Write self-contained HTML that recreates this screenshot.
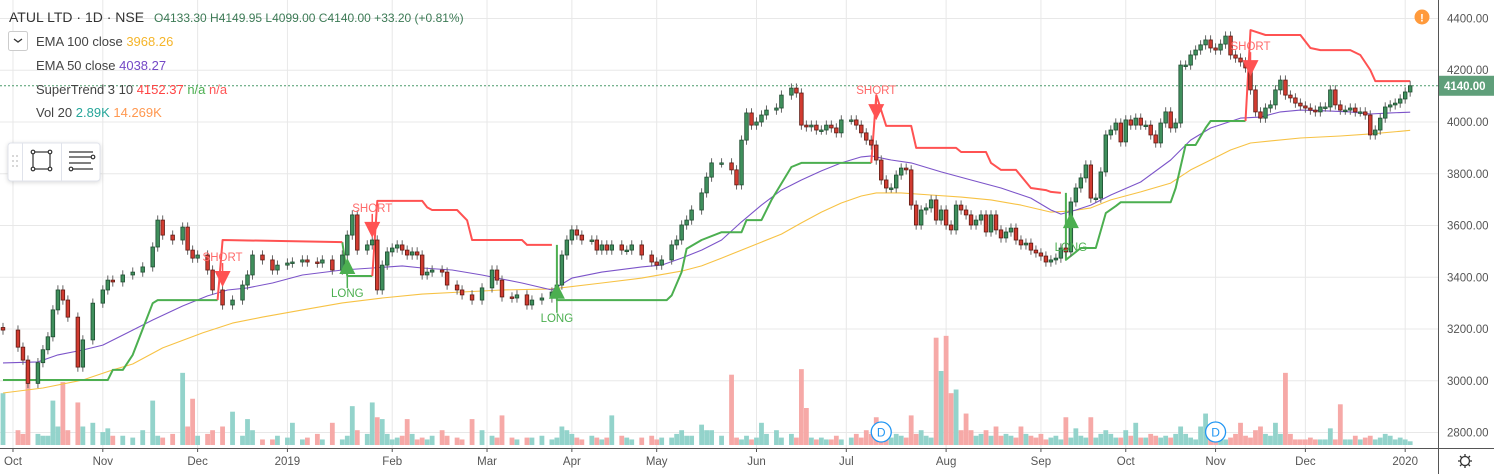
<!DOCTYPE html>
<html><head><meta charset="utf-8"><style>
html,body{margin:0;padding:0;background:#fff;width:1494px;height:474px;overflow:hidden}
svg{display:block;font-family:"Liberation Sans",sans-serif}
</style></head><body>
<svg id="chart" width="1494" height="474" viewBox="0 0 1494 474" xmlns="http://www.w3.org/2000/svg">
<g id="grid"></g>
<g id="vol"></g>
<g id="lines"></g>
<g id="candles"></g>
<g id="marks"></g>
<g id="axes"></g>
<g font-size="13">
 <text x="9" y="22" fill="#333" font-size="14">ATUL LTD · 1D · NSE</text>
 <text x="154" y="22" fill="#3c7a55" font-size="12">O4133.30  H4149.95  L4099.00  C4140.00  +33.20 (+0.81%)</text>
 <rect x="8.5" y="31.5" width="19" height="19" rx="2" fill="#fff" stroke="#ccc"/>
 <path d="M14 39 l4 3 l4 -3" fill="none" stroke="#333" stroke-width="1.3"/>
 <text x="36" y="46" fill="#444">EMA 100 close <tspan fill="#f5b52a">3968.26</tspan></text>
 <text x="36" y="70" fill="#444">EMA 50 close <tspan fill="#7448c6">4038.27</tspan></text>
 <text x="36" y="94" fill="#444">SuperTrend 3 10 <tspan fill="#f44">4152.37</tspan> <tspan fill="#4caf50">n/a</tspan> <tspan fill="#f55">n/a</tspan></text>
 <text x="36" y="117" fill="#444">Vol 20 <tspan fill="#26a69a">2.89K</tspan> <tspan fill="#ff9850">14.269K</tspan></text>
</g>
<g>
 <rect x="8" y="143" width="92" height="38" rx="3" fill="#fff" stroke="#e0e3eb" style="filter:drop-shadow(0 1px 2px rgba(0,0,0,.15))"/>
 <line x1="22.5" y1="143" x2="22.5" y2="181" stroke="#e0e3eb"/>
 <line x1="61.5" y1="143" x2="61.5" y2="181" stroke="#e0e3eb"/>
 <g fill="#ccc"><circle cx="13" cy="156" r="1"/><circle cx="17" cy="156" r="1"/><circle cx="13" cy="161" r="1"/><circle cx="17" cy="161" r="1"/><circle cx="13" cy="166" r="1"/><circle cx="17" cy="166" r="1"/></g>
 <g fill="#fff" stroke="#333" stroke-width="1.2"><rect x="33" y="152" width="17" height="17" fill="none"/><circle cx="33" cy="152" r="1.8"/><circle cx="50" cy="152" r="1.8"/><circle cx="33" cy="169" r="1.8"/><circle cx="50" cy="169" r="1.8"/></g>
 <g stroke="#333" stroke-width="1.2" fill="#fff"><line x1="69" y1="152" x2="93" y2="152"/><line x1="69" y1="157" x2="91" y2="157"/><line x1="69" y1="163" x2="91" y2="163"/><line x1="72" y1="169" x2="93" y2="169"/><circle cx="93" cy="157" r="1.8"/><circle cx="71" cy="169" r="1.8"/></g>
</g>
<g><circle cx="1422" cy="17" r="7.5" fill="#ff9a3c"/><text x="1422" y="21.5" text-anchor="middle" fill="#fff" font-size="11" font-weight="bold">!</text></g>
<g fill="none" stroke="#333" stroke-width="1.3"><circle cx="1465" cy="461" r="4.5"/><path d="M1465 454v2M1465 466v2M1458 461h2M1470 461h2M1460 456l1.5 1.5M1468.5 464.5l1.5 1.5M1460 466l1.5-1.5M1468.5 457.5l1.5-1.5"/></g>
</svg>
<script>
const days=[0,3,4,5,7,8,9,10,11,12,13,15,16,18,20,21,22,24,26,28,30,31,32,34,36,37,38,39,41,42,44,46,48,49,50,52,54,55,57,58,60,61,63,64,66,68,69,70,71,73,74,75,76,77,78,79,80,81,82,83,84,85,86,88,89,91,92,94,96,98,99,100,102,103,105,106,108,110,111,112,113,114,115,116,118,119,120,121,122,124,125,126,128,130,131,132,134,135,136,137,138,140,141,142,144,146,147,148,149,150,151,152,153,155,156,158,159,160,161,162,163,164,165,166,167,168,170,171,172,173,174,175,176,177,178,179,180,181,182,183,184,185,186,187,188,189,190,191,192,193,194,195,196,197,198,199,200,201,202,203,204,205,206,207,208,209,210,211,212,213,214,215,216,217,218,219,220,221,222,223,224,225,226,227,228,229,230,231,232,233,234,235,236,237,238,239,240,241,242,243,244,245,246,247,248,249,250,251,252,253,254,255,256,257,258,259,260,261,262,263,264,265,266,267,268,269,270,271,272,273,274,275,276,277,278,279,280,281,282];
const closes=[3196,3130,3080,2990,3070,3120,3170,3274,3351,3312,3246,3053,3158,3300,3351,3389,3382,3409,3420,3440,3517,3621,3563,3544,3594,3505,3474,3486,3428,3351,3293,3312,3370,3409,3486,3467,3428,3447,3455,3459,3467,3459,3455,3467,3428,3486,3563,3641,3505,3525,3544,3351,3447,3498,3513,3525,3505,3486,3498,3486,3409,3420,3428,3420,3370,3351,3332,3312,3359,3428,3389,3324,3320,3332,3293,3312,3320,3343,3370,3486,3544,3583,3563,3544,3544,3505,3525,3505,3525,3505,3505,3525,3486,3459,3447,3467,3525,3544,3602,3621,3660,3726,3787,3842,3842,3815,3757,3930,4035,3988,4000,4027,4046,4054,4104,4131,4112,3988,3981,3988,3969,3969,3988,3977,3958,4008,4008,3988,3958,3930,3911,3853,3776,3745,3745,3795,3822,3815,3679,3602,3660,3668,3699,3621,3660,3602,3583,3679,3660,3641,3602,3621,3641,3575,3641,3583,3552,3575,3590,3544,3525,3532,3505,3494,3482,3459,3467,3474,3513,3498,3691,3745,3784,3834,3706,3706,3807,3950,3969,3996,3923,4008,3988,4015,3988,3988,3950,3919,3996,4039,3977,3996,4220,4220,4259,4278,4298,4317,4286,4278,4301,4332,4259,4247,4232,4209,4124,4039,4015,4054,4066,4124,4162,4104,4093,4073,4062,4054,4046,4039,4058,4058,4124,4066,4046,4046,4054,4039,4039,4027,3950,3969,4015,4058,4066,4073,4089,4116,4140];
const vols=[28,8,6,42,6,5,5,24,10,34,8,23,10,12,7,9,5,5,4,8,24,5,4,6,39,10,25,5,6,8,10,18,5,14,8,3,3,5,4,12,3,4,6,3,12,3,5,21,8,6,23,15,14,6,3,4,5,14,6,3,4,3,5,8,5,4,3,14,8,5,4,16,4,3,4,4,5,3,4,10,8,6,4,3,5,4,3,4,16,5,4,3,4,5,3,4,4,6,8,5,5,11,8,8,5,38,4,3,5,3,4,12,6,8,4,6,4,41,20,4,3,4,3,3,5,3,4,6,4,8,6,15,5,8,4,6,5,4,16,6,8,5,4,58,40,59,28,30,8,17,8,5,6,8,5,10,5,6,5,4,10,6,5,4,6,3,4,5,3,15,4,9,5,4,15,4,6,8,6,4,4,8,5,12,4,4,6,5,4,5,4,6,10,6,4,3,10,17,8,5,4,3,4,6,12,5,4,8,10,6,5,12,6,39,6,3,3,3,4,3,3,3,9,3,22,3,3,5,3,4,5,3,4,6,5,3,4,3,2];
const ema50Days=[0,7,11,16,20,26,30,36,41,45,49,54,60,68,74,80,84,90,96,104,110,114,120,128,132,136,140,144,148,152,156,160,164,168,172,174,178,182,188,194,200,206,210,212,215,218,222,228,234,238,242,248,252,256,260,266,270,274,278,282];
const ema50=[3069,3073,3100,3119,3138,3196,3235,3289,3328,3351,3359,3378,3409,3428,3436,3444,3436,3428,3409,3378,3351,3397,3420,3440,3447,3474,3505,3544,3614,3679,3737,3776,3811,3842,3865,3869,3853,3842,3807,3776,3745,3706,3660,3644,3660,3679,3718,3768,3853,3930,3977,4015,4019,4039,4046,4042,4039,4031,4035,4038];
const ema100Days=[0,8,16,22,26,32,40,46,52,60,68,76,84,92,100,110,120,128,136,140,144,148,152,156,160,164,168,172,175,180,186,192,198,204,210,214,218,222,228,234,238,242,246,250,254,260,268,274,280,282];
const ema100=[2953,2972,3003,3042,3065,3127,3185,3223,3246,3274,3301,3320,3335,3343,3351,3355,3378,3397,3424,3444,3474,3505,3536,3567,3610,3652,3687,3714,3726,3726,3718,3710,3699,3679,3652,3656,3668,3699,3730,3764,3815,3853,3892,3919,3927,3938,3946,3954,3964,3968];
const stUpDays=[[0,21,22,24,26,28,30,31,43],[68,69,74],[111,111,133,134,136,137,140,144,148,149,152,154,158,160,174],[213,213,216,219,221,223,224,234,235,237,239,241,242,249]];
const stUp=[[3003,3003,3042,3042,3100,3200,3300,3312,3312],[3536,3405,3405],[3525,3312,3312,3330,3420,3510,3544,3574,3574,3621,3621,3699,3826,3842,3842],[3726,3467,3513,3513,3648,3675,3690,3690,3745,3911,3911,3977,4004,4004]];
const stDnDays=[[43,44,68],[74,75,84,85,86,91,93,94,104,105,110],[174,175,177,182,183,191,192,197,198,200,203,206,209,210,212],[249,250,253,260,262,264,270,272,274,275,282]];
const stDn=[[3312,3544,3536],[3405,3695,3695,3670,3660,3660,3620,3544,3544,3525,3525],[3842,4104,3985,3985,3900,3900,3884,3884,3842,3815,3815,3745,3737,3730,3726],[4004,4355,4336,4336,4286,4278,4278,4259,4201,4158,4158]];
const shortDays=[44,74,175,250], shortPrices=[3370,3560,4015,4185];
const longDays=[69,111,214], longPrices=[3436,3340,3613];
const divDays=[176,243];
const priceTicks=[2800,3000,3200,3400,3600,3800,4000,4200,4400];
const monthDays=[2,20,39,57,78,97,114,131,151,169,189,208,225,243,261,281];
const monthLabels=["Oct","Nov","Dec","2019","Feb","Mar","Apr","May","Jun","Jul","Aug","Sep","Oct","Nov","Dec","2020"];
const lastPrice=4140;

const NS="http://www.w3.org/2000/svg";
const X=d=>3+d*4.99;
const Y=p=>122+(4000-p)*0.2588;
const VY=v=>445-v*1.85;
function mk(parent,tag,attrs){const e=document.createElementNS(NS,tag);for(const k in attrs)e.setAttribute(k,attrs[k]);parent.appendChild(e);return e;}
const grid=document.getElementById('grid'),vol=document.getElementById('vol'),lines=document.getElementById('lines'),cg=document.getElementById('candles'),marks=document.getElementById('marks'),axes=document.getElementById('axes');

priceTicks.forEach(p=>{
 const l=mk(grid,'line',{x1:0,x2:1438,y1:Y(p),y2:Y(p),stroke:'#e8e8e8'});
 
 
 const t=mk(axes,'text',{x:1447,y:Y(p)+4,fill:'#555','font-size':11.5});
 t.textContent=p.toFixed(2);
 
 
});
monthDays.forEach((d,i)=>{
 const l=mk(grid,'line',{x1:X(d),x2:X(d),y1:0,y2:448,stroke:'#e8e8e8'});
 
 
 const t=mk(axes,'text',{x:X(d),y:465,fill:'#555','font-size':11.5,'text-anchor':'middle'});
 t.textContent=monthLabels[i];
 
 
 mk(axes,'line',{x1:X(d),x2:X(d),y1:448,y2:452,stroke:'#555'});
});
mk(axes,'line',{x1:1438.5,x2:1438.5,y1:0,y2:474,stroke:'#555'});
mk(axes,'line',{x1:0,x2:1438,y1:448.5,y2:448.5,stroke:'#555'});
mk(axes,'line',{x1:1438,x2:1494,y1:448.5,y2:448.5,stroke:'#555'});

// volume
days.forEach((d,i)=>{
 const up=closes[i]>=(i?closes[i-1]:closes[i]);
 const r=mk(vol,'rect',{x:X(d)-2.4,y:VY(vols[i]),width:4.8,height:445-VY(vols[i]),fill:up?'#93d3cb':'#f6a9a7'});
 
 
});
divDays.forEach(d=>{
 const g=mk(vol,'g',{});
 
 
 mk(g,'circle',{cx:X(d),cy:432,r:10,fill:'#fff',stroke:'#2196f3','stroke-width':1.3});
 const t=mk(g,'text',{x:X(d),y:436.5,'text-anchor':'middle',fill:'#2196f3','font-size':12});t.textContent='D';
});

function poly(ds,ps,color,w,name){
 const pts=ds.map((d,i)=>X(d).toFixed(1)+','+Y(ps[i]).toFixed(1)).join(' ');
 const p=mk(lines,'polyline',{points:pts,fill:'none',stroke:color,'stroke-width':w,'stroke-linejoin':'round'});
 
 
}
poly(ema100Days,ema100,'#f7c244',1.1,'ema100-line');
poly(ema50Days,ema50,'#7c54c9',1.1,'ema50-line');
stUpDays.forEach((ds,i)=>poly(ds,stUp[i],'#4caf50',2,'supertrend-up-line'));
stDnDays.forEach((ds,i)=>poly(ds,stDn[i],'#ff5252',2,'supertrend-down-line'));

// last price line
const pl=mk(lines,'line',{x1:0,x2:1438,y1:Y(lastPrice),y2:Y(lastPrice),stroke:'#4a9a6a','stroke-dasharray':'2,2'});


const lb=mk(axes,'rect',{x:1439,y:Y(lastPrice)-10,width:55,height:20,fill:'#5f9f7a'});


const lt=mk(axes,'text',{x:1444,y:Y(lastPrice)+4,fill:'#fff','font-size':11.5,'font-weight':'bold'});lt.textContent=lastPrice.toFixed(2);

// candles
days.forEach((d,i)=>{
 const c=closes[i],o=i?closes[i-1]:closes[i]+10;
 const up=c>=o;
 const hi=Math.max(o,c)+18,lo=Math.min(o,c)-18;
 const g=mk(cg,'g',{});
 
 
 mk(g,'line',{x1:X(d),x2:X(d),y1:Y(hi),y2:Y(lo),stroke:'#666','stroke-width':1});
 const top=Y(Math.max(o,c)),bot=Y(Math.min(o,c));
 mk(g,'rect',{x:X(d)-1.8,y:top,width:3.6,height:Math.max(1.5,bot-top),fill:up?'#3f8f5c':'#d13b30',stroke:up?'#1f4d31':'#5e1a13','stroke-width':0.8});
});

// markers
shortDays.forEach((d,i)=>{
 const g=mk(marks,'g',{});
 
 
 const x=X(d),y=Y(shortPrices[i]);
 mk(g,'line',{x1:x,x2:x,y1:y-22,y2:y,stroke:'#ff5252','stroke-width':1.5});
 mk(g,'path',{d:`M${x-8} ${y-14} L${x+8} ${y-14} L${x} ${y+2} Z`,fill:'#ff5252'});
 const t=mk(g,'text',{x:x,y:y-24,'text-anchor':'middle',fill:'#ff6a6a','font-size':11.5});t.textContent='SHORT';
});
longDays.forEach((d,i)=>{
 const g=mk(marks,'g',{});
 
 
 const x=X(d),y=Y(longPrices[i]);
 mk(g,'line',{x1:x,x2:x,y1:y,y2:y+20,stroke:'#4caf50','stroke-width':1.5});
 mk(g,'path',{d:`M${x-8} ${y+6} L${x+8} ${y+6} L${x} ${y-10} Z`,fill:'#4caf50'});
 const t=mk(g,'text',{x:x,y:y+29,'text-anchor':'middle',fill:'#4caf50','font-size':11.5});t.textContent='LONG';
});
</script>
</body></html>
